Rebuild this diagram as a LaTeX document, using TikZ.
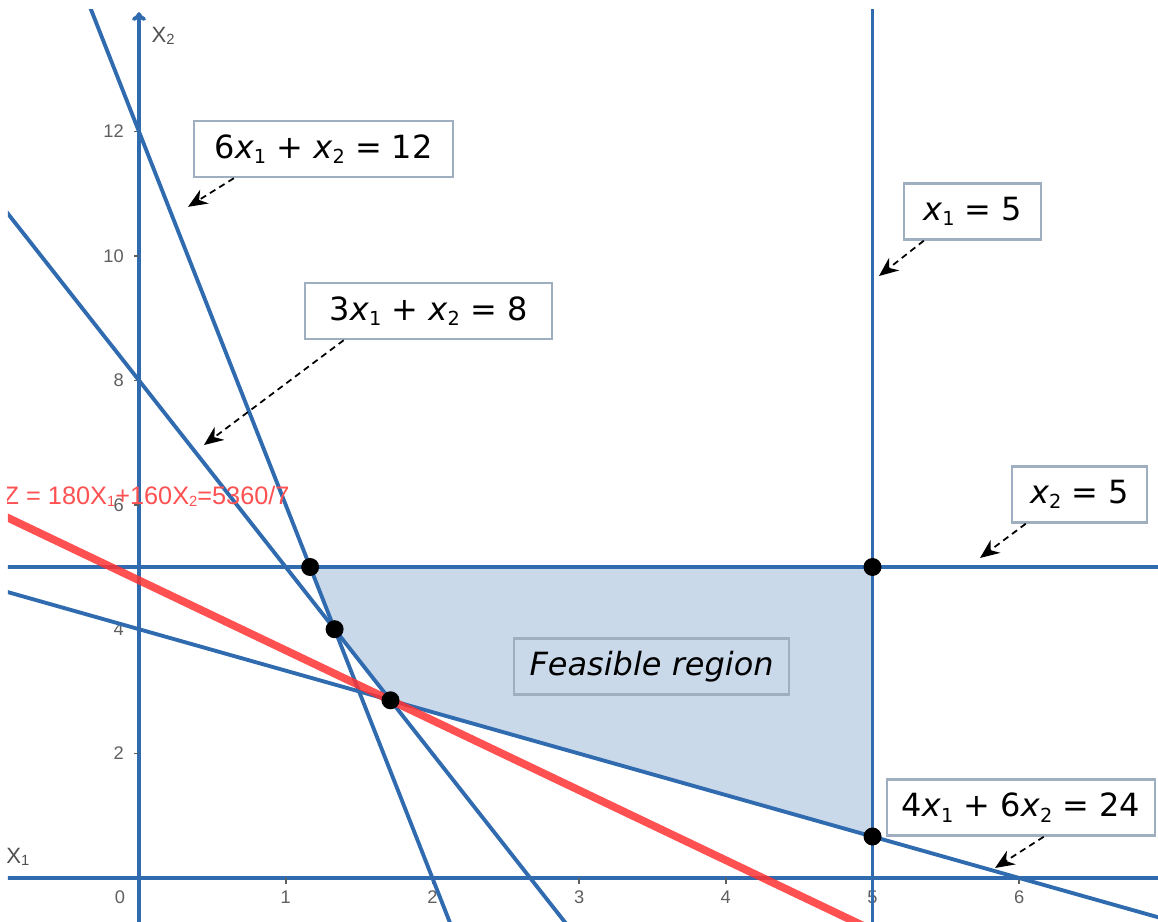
\documentclass[tikz,border=0pt]{standalone}
\usepackage{fontspec}
\setmainfont{DejaVu Sans}
\newfontfamily\plotfont{Liberation Sans}
\usetikzlibrary{arrows.meta,positioning}

\definecolor{lineblue}{RGB}{47,107,174}
\definecolor{regionfill}{RGB}{201,217,234}
\definecolor{boxedge}{RGB}{160,175,192}
\definecolor{objred}{RGB}{255,50,50}
\definecolor{tickgray}{RGB}{95,95,95}

\newcommand{\xsub}[1]{\textit{x}\raisebox{-1.6pt}{\fontsize{5.5}{6}\selectfont #1}}
\newcommand{\Xsub}[1]{X\raisebox{-0.6pt}{\fontsize{4.2}{5}\selectfont #1}}

\begin{document}
\begin{tikzpicture}[
  x=1.467cm, y=0.622cm,
  >=Stealth,
  constraint/.style={draw=lineblue, line width=1.1pt},
  objline/.style={draw=objred, line width=2.2pt, opacity=0.85},
  vertex/.style={circle, fill=black, inner sep=0pt, minimum size=0.18cm},
  eqbox/.style={rectangle, draw=boxedge, line width=0.7pt, fill=white, minimum height=0.56cm, inner xsep=4pt, font=\fontsize{9.1}{11}\selectfont},
  pointer/.style={-{Stealth[length=5.5pt,width=4.6pt]}, dash pattern=on 1.8pt off 1.3pt, line width=0.5pt, black},
  ticklbl/.style={font=\plotfont\fontsize{5.2}{6}\selectfont, text=tickgray, inner sep=1pt},
  axislbl/.style={font=\plotfont\fontsize{6.3}{7}\selectfont, text=tickgray!85!black, inner sep=0pt}
]
\useasboundingbox (-0.9475,-0.6913) rectangle (6.9461,14.1158);
\clip (-0.893,-0.6913) rectangle (6.9461,13.955);

% feasible region
\fill[regionfill] (7/6,5) -- (5,5) -- (5,2/3) -- (12/7,20/7) -- (4/3,4) -- cycle;

% axes and ticks
\draw[constraint] (-1,0) -- (7,0);
\draw[constraint, -{To[length=2.5pt,width=4pt]}] (0,-1) -- (0,13.92);
\foreach \t in {2,4,...,12}
  \draw[tickgray, line width=0.5pt] (0,\t) -- (-0.035,\t);
\foreach \t in {1,...,6}
  \draw[tickgray, line width=0.5pt] (\t,0) -- (\t,-0.09);
\foreach \t in {2,4,...,12}
  \node[ticklbl, anchor=east] (ylbl\t) at (-0.075,\t) {\t};
\foreach \t in {1,...,6}
  \node[ticklbl] (xlbl\t) at (\t,-0.305) {\t};
\node[ticklbl] (xlbl0) at (-0.13,-0.305) {0};
\node[axislbl] (xtwo) at (0.164,13.54) {\Xsub{2}};
\node[axislbl] (xone) at (-0.826,0.338) {\Xsub{1}};

% constraint lines
\draw[constraint] (-0.5,15) -- (13/6,-1);
\draw[constraint] (-1,11) -- (3,-1);
\draw[constraint] (-1,14/3) -- (7.5,-1);
\draw[constraint] (5,-1) -- (5,15);
\draw[constraint] (-1,5) -- (7,5);

% objective
\draw[objline] (-1,{(5360/7+180)/160}) -- (5.5,{(5360/7-990)/160});
\node[font=\plotfont\fontsize{7.2}{8}\selectfont, text=objred!85!white, anchor=west, inner sep=0pt] (zlbl) at (-0.927,6.14)
  {Z = 180\Xsub{1}+160\Xsub{2}=5360/7};

% corner points
\node[vertex] (v1) at (7/6,5) {};
\node[vertex] (v2) at (5,5) {};
\node[vertex] (v3) at (4/3,4) {};
\node[vertex] (v4) at (12/7,20/7) {};
\node[vertex] (v5) at (5,2/3) {};

% labels
\node[eqbox, minimum width=2.59cm] (eqsix) at (1.258,11.72) {6\xsub{1} + \xsub{2} = 12};
\node[eqbox, minimum width=1.37cm] (eqxone) at (5.682,10.716) {\xsub{1} = 5};
\node[eqbox, minimum width=2.47cm] (eqthree) at (1.973,9.116) {3\xsub{1} + \xsub{2} = 8};
\node[eqbox, minimum width=1.35cm] (eqxtwo) at (6.411,6.166) {\xsub{2} = 5};
\node[eqbox, fill=none, minimum width=2.75cm] (feas) at (3.494,3.400) {\textit{Feasible region}};
\node[eqbox, minimum width=2.68cm] (eqfour) at (6.012,1.133) {4\xsub{1} + 6\xsub{2} = 24};

\coordinate (tsix) at (0.334,10.79);
\coordinate (txone) at (5.044,9.678);
\coordinate (tthree) at (0.443,6.961);
\coordinate (txtwo) at (5.733,5.145);
\coordinate (tfour) at (5.835,0.161);

\draw[pointer] ([xshift=0.41cm]eqsix.south west) -- (tsix);
\draw[pointer] ([xshift=0.21cm]eqxone.south west) -- (txone);
\draw[pointer] ([xshift=0.40cm]eqthree.south west) -- (tthree);
\draw[pointer] ([xshift=0.15cm]eqxtwo.south west) -- (txtwo);
\draw[pointer] ([xshift=1.58cm]eqfour.south west) -- (tfour);
\end{tikzpicture}
\end{document}
